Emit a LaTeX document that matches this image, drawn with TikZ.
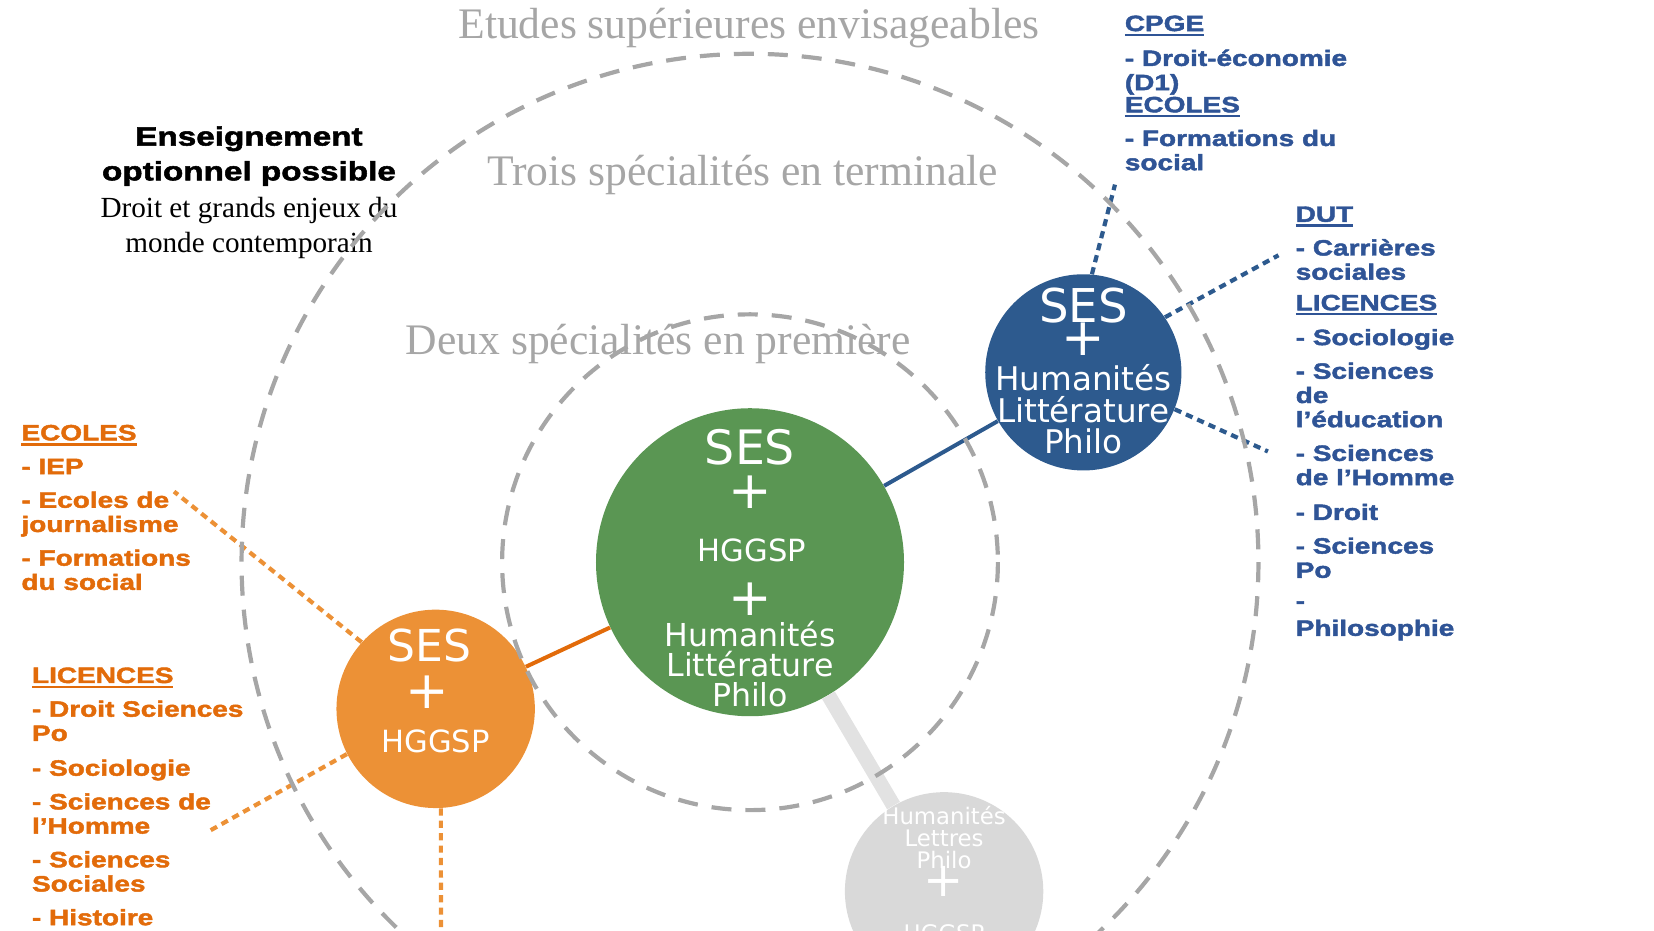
\documentclass[tikz,border=0pt]{standalone}
\usepackage{fontspec}
\setmainfont{Liberation Serif}
\newfontfamily\bubblefont{DejaVu Sans}
\newfontfamily\heavyfont[FakeBold=2,FakeStretch=1.26]{Liberation Sans Bold}
\usetikzlibrary{positioning}

\definecolor{ringgray}{HTML}{A6A6A6}
\definecolor{sesgreen}{HTML}{5A9653}
\definecolor{sesorange}{HTML}{EC9136}
\definecolor{linkorange}{HTML}{E26B0A}
\definecolor{sesblue}{HTML}{2D5A8E}
\definecolor{textblue}{HTML}{2F5496}
\definecolor{softgray}{HTML}{D9D9D9}
\definecolor{barelink}{HTML}{E2E2E2}

\newcommand{\rubric}[1]{\setbox0=\hbox{#1}\rlap{\rule[-2.6pt]{\wd0}{1.3pt}}\box0}

\begin{document}
\begin{tikzpicture}[x=0.5274pt,y=-0.5274pt,
                    ring/.style={draw=ringgray,line width=2.1pt,dash pattern=on 10pt off 7pt},
                    spec/.style={circle,inner sep=0pt},
                    inspec/.style={text=white,inner sep=0pt,align=center},
                    dotlink/.style={line width=2.1pt,dash pattern=on 3.6pt off 2.6pt},
                    stage/.style={text=ringgray,inner sep=0pt,font=\fontsize{21.8}{24}\selectfont},
                    outlet/.style={anchor=north west,inner sep=0pt,align=left,
                                   font=\heavyfont\fontsize{11.1}{12.1}\selectfont}]
\useasboundingbox (0,0) rectangle (1568,882);
\clip (0,0) rectangle (1568,882);

% the four combinations
\node[spec,fill=sesgreen,minimum size=154pt] (green) at (711,533) {};
\node[spec,fill=sesorange,minimum size=99.2pt] (orange) at (413,672) {};
\node[spec,fill=sesblue,minimum size=98.1pt] (blue) at (1027,353) {};
\node[spec,fill=softgray,minimum size=99.2pt] (gray) at (895,845) {};

\node[inspec,font=\bubblefont\fontsize{23.7}{26}\selectfont] (greenses) at (711,424) {SES};
\node[inspec,font=\bubblefont\fontsize{26}{28}\selectfont] (greenplus) at (711,467) {+};
\node[inspec,font=\bubblefont\fontsize{15.3}{17}\selectfont] (greenhg) at (713,522) {HGGSP};
\node[inspec,font=\bubblefont\fontsize{26}{28}\selectfont] (greenplusb) at (711,568) {+};
\node[inspec,font=\bubblefont\fontsize{15.8}{15}\selectfont] (greenhum) at (711,630) {Humanités\\Littérature\\Philo};

\node[inspec,font=\bubblefont\fontsize{22}{24}\selectfont] (orangeses) at (407,612) {SES};
\node[inspec,font=\bubblefont\fontsize{26}{28}\selectfont] (orangeplus) at (405,656) {+};
\node[inspec,font=\bubblefont\fontsize{15.3}{17}\selectfont] (orangehg) at (413,703) {HGGSP};

\node[inspec,font=\bubblefont\fontsize{23.3}{26}\selectfont] (blueses) at (1027,290) {SES};
\node[inspec,font=\bubblefont\fontsize{26}{28}\selectfont] (blueplus) at (1027,322) {+};
\node[inspec,font=\bubblefont\fontsize{16.3}{15.8}\selectfont] (bluehum) at (1027,388) {Humanités\\Littérature\\Philo};

\node[inspec,font=\bubblefont\fontsize{11.4}{10.8}\selectfont] (grayhum) at (895,794) {Humanités\\Lettres\\Philo};
\node[inspec,font=\bubblefont\fontsize{24}{26}\selectfont] (grayplus) at (895,836) {+};
\node[inspec,font=\bubblefont\fontsize{11.4}{13}\selectfont] (grayhg) at (895,885) {HGGSP};

% links between years
\draw[linkorange,line width=2pt] (orange) -- (green);
\draw[sesblue,line width=2pt] (green) -- (blue);
\draw[barelink,line width=7.4pt] (green) -- (gray);

% free ends of the dotted links
\coordinate (cpgeend) at (1057,175);
\coordinate (dutend) at (1212,242);
\coordinate (licbend) at (1202,428);
\coordinate (ecoend) at (165,466);
\coordinate (licoend) at (198,788);
\coordinate (downend) at (418,900);

\draw[dotlink,sesblue] (blue.85) -- (cpgeend);
\draw[dotlink,sesblue] (blue.34) -- (dutend);
\draw[dotlink,sesblue] (blue.-22) -- (licbend);
\draw[dotlink,sesorange] (orange.138) -- (ecoend);
\draw[dotlink,sesorange] (orange.207) -- (licoend);
\draw[dotlink,sesorange] (orange.-87) -- (downend);

% outlets
\node[outlet,text=textblue] (cpge) at (1066,14.4) {\rubric{CPGE}\\[5.3pt]
  - Droit-économie\\ (D1)\\[-1pt] \rubric{ECOLES}\\[4.75pt] - Formations du\\ social};
\node[outlet,text=textblue] (dut) at (1228,195.4) {\rubric{DUT}\\[4.75pt]
  - Carrières\\ sociales\\[3.2pt] \rubric{LICENCES}\\[5.3pt] - Sociologie\\[4.75pt]
  - Sciences\\ de\\ l’éducation\\[4.75pt] - Sciences\\ de l’Homme\\[5.3pt]
  - Droit\\[4.75pt] - Sciences\\ Po\\[3.2pt] -\\[1.6pt] Philosophie};
\node[outlet,text=linkorange] (ecoles) at (20,402.4) {\rubric{ECOLES}\\[4.75pt]
  - IEP\\[4.75pt] - Ecoles de\\ journalisme\\[4.75pt] - Formations\\ du social};
\node[outlet,text=linkorange] (licences) at (30,632.4) {\rubric{LICENCES}\\[4.75pt]
  - Droit Sciences\\ Po\\[5.3pt] - Sociologie\\[4.75pt] - Sciences de\\ l’Homme\\[4.75pt]
  - Sciences\\ Sociales\\[4.75pt] - Histoire};

% optional course
\node[inner sep=0pt,align=center,font=\heavyfont\fontsize{13.2}{17.4}\selectfont] (opttitle)
  at (236,148) {Enseignement\\optionnel possible};
\node[below=5.5pt of opttitle,inner sep=0pt,align=center,font=\fontsize{14.6}{17.4}\selectfont]
  (optsub) {Droit et grands enjeux du\\monde contemporain};

% stages
\node[stage] (etudes) at (710,26.5) {Etudes supérieures envisageables};
\node[stage] (trois) at (704,165.5) {Trois spécialités en terminale};
\node[stage] (deux) at (624,326.5) {Deux spécialités en première};

\draw[ring] (green) circle[radius=482];
\draw[ring] (green) circle[radius=235];
\end{tikzpicture}
\end{document}
